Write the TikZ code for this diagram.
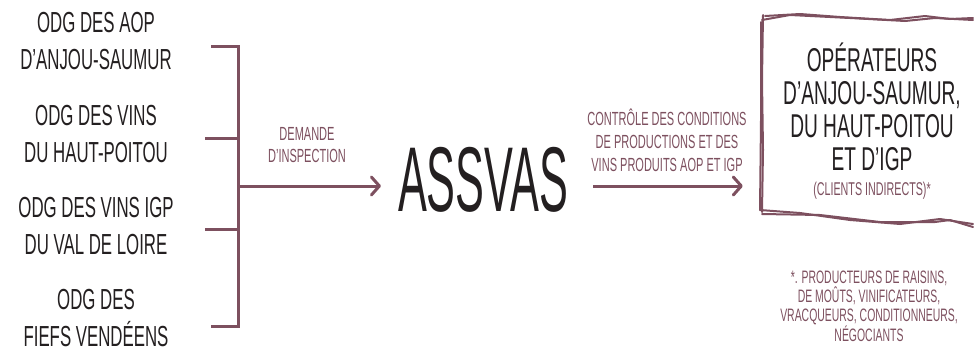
\documentclass[tikz,border=0pt]{standalone}
\usepackage{fontspec}
\usetikzlibrary{arrows.meta,positioning}

\newfontfamily\handfont[FakeStretch=0.58]{Liberation Sans}
\newfontfamily\bighandfont[FakeStretch=0.47]{Liberation Sans}
\definecolor{plum}{RGB}{125,80,95}
\definecolor{ink}{RGB}{35,31,32}

\begin{document}
\begin{tikzpicture}[
    x=1pt,y=-1pt,
    odg label/.style={align=center,text=ink,
        font=\handfont\fontsize{29}{37}\selectfont},
    flow label/.style={align=center,text=plum,
        font=\handfont\fontsize{19}{22}\selectfont},
    link/.style={draw=plum,line width=3pt},
    flow/.style={link,-{Straight Barb[length=8pt,width=18pt,round]}},
    sketch/.style={draw=plum,line width=2pt,line cap=round,line join=round}
]
    \useasboundingbox (0,0) rectangle (974,354);

    % organismes de defense et de gestion
    \node[odg label] (odg1) at (96,41) {ODG DES AOP\\D’ANJOU-SAUMUR};
    \node[odg label] (odg2) at (96,134) {ODG DES VINS\\DU HAUT-POITOU};
    \node[odg label] (odg3) at (96,226) {ODG DES VINS IGP\\DU VAL DE LOIRE};
    \node[odg label] (odg4) at (96,318) {ODG DES\\FIEFS VENDÉENS};

    \coordinate (fork) at (238,186);
    \coordinate (tick1) at (211,46);
    \coordinate (tick2) at (205,138);
    \coordinate (tick3) at (205,229);
    \coordinate (tick4) at (211,326);
    \draw[link] (tick1) -- (tick1 -| fork) -- (tick4 -| fork) -- (tick4);
    \draw[link] (tick2) -- (tick2 -| fork);
    \draw[link] (tick3) -- (tick3 -| fork);

    \node[text=ink,inner sep=0pt,font=\bighandfont\fontsize{92}{92}\selectfont]
        (assvas) at (483,180) {ASSVAS};

    \draw[flow,shorten >=17pt] (fork) -- (fork -| assvas.west);
    \node[flow label] (demande) at (307,145) {DEMANDE\\D’INSPECTION};

    % operateurs
    \node[align=center,text=ink,minimum width=200pt,minimum height=196pt,
        font=\handfont\fontsize{33}{33}\selectfont] (opsbox) at (872,121)
        {OPÉRATEURS\\D’ANJOU-SAUMUR,\\DU HAUT-POITOU\\ET D’IGP\\[-8pt]
        \textcolor{plum}{\fontsize{18.5}{18}\selectfont (CLIENTS INDIRECTS)*}};
    \draw[sketch] (765,16) -- (800,14) -- (840,17) -- (890,20) -- (925,16)
        -- (950,19) -- (973,18);
    \draw[sketch] (762,20) -- (790,15) -- (850,18) -- (905,21) -- (935,18)
        -- (973,20);
    \draw[sketch] (763,15) -- (762,80) -- (763,150) -- (762,212);
    \draw[sketch] (761,22) -- (761,120) -- (760,210);
    \draw[sketch] (760,210) -- (800,213) -- (850,220) -- (900,224)
        -- (940,219) -- (973,224);
    \draw[sketch] (762,214) -- (820,215) -- (880,222) -- (935,222)
        -- (950,220) -- (973,227);

    \draw[flow,shorten <=25pt,shorten >=29pt]
        (assvas.east |- fork) -- (opsbox.west |- fork);
    \node[flow label,font=\handfont\fontsize{19}{23}\selectfont]
        (controle) at (667,140)
        {CONTRÔLE DES CONDITIONS\\DE PRODUCTIONS ET DES\\VINS PRODUITS AOP ET IGP};

    \node[flow label,font=\handfont\fontsize{18}{19}\selectfont]
        (note) at (869,306)
        {*. PRODUCTEURS DE RAISINS,\\DE MOÛTS, VINIFICATEURS,\\
        VRACQUEURS, CONDITIONNEURS,\\NÉGOCIANTS};
\end{tikzpicture}
\end{document}
